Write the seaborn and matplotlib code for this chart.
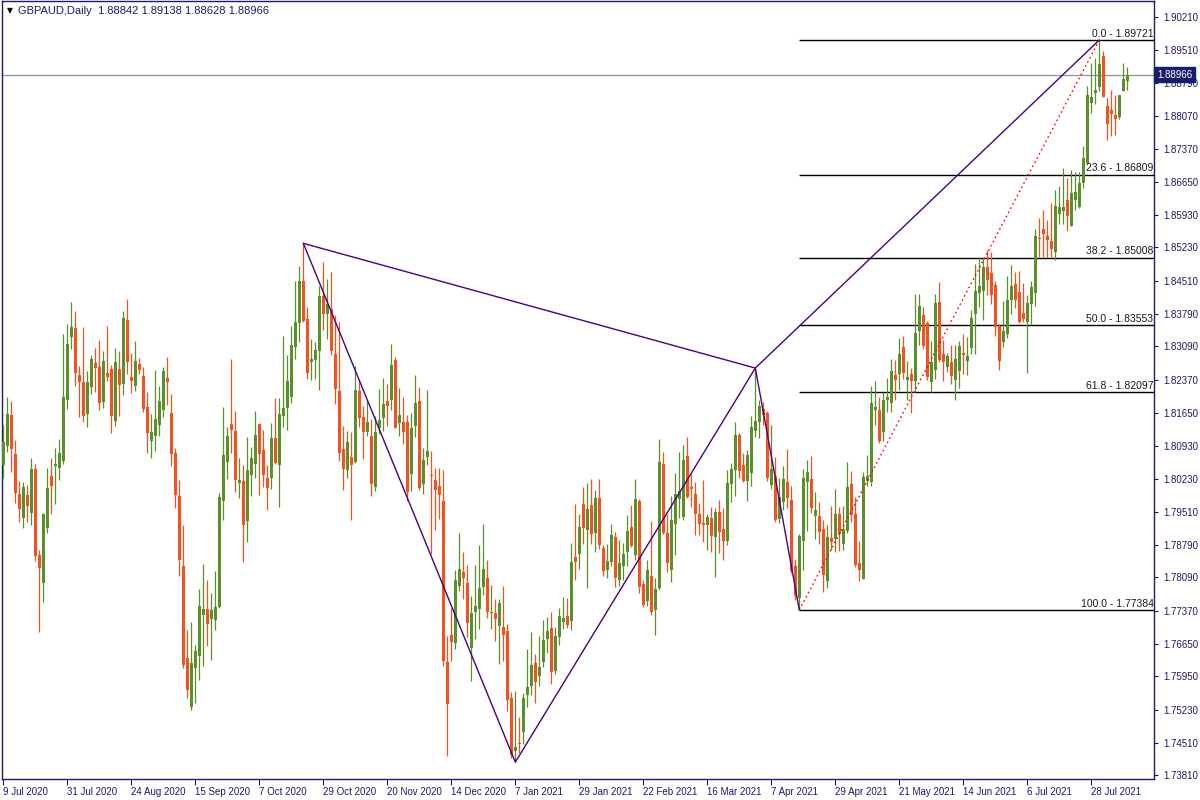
import numpy as np
import pandas as pd
import matplotlib
matplotlib.use("Agg")
import matplotlib.pyplot as plt
import matplotlib.transforms as mtransforms
import seaborn as sns

# GBPAUD daily OHLC (bar 0 = 9 Jul 2020)
opens = [
    1.8052, 1.8093, 1.8160, 1.8076, 1.7990, 1.7938, 1.7987, 1.7948, 1.8044, 1.7858,
    1.7797, 1.7916, 1.8028, 1.8050, 1.8046, 1.8061, 1.8193, 1.8329, 1.8349, 1.8247,
    1.8232, 1.8163, 1.8221, 1.8273, 1.8264, 1.8189, 1.8251, 1.8260, 1.8148, 1.8260,
    1.8228, 1.8366, 1.8243, 1.8223, 1.8271, 1.8245, 1.8178, 1.8104, 1.8115, 1.8139,
    1.8171, 1.8241, 1.8165, 1.8078, 1.7985, 1.7834, 1.7635, 1.7528, 1.7613, 1.7639,
    1.7728, 1.7741, 1.7719, 1.7717, 1.7745, 1.7974, 1.8059, 1.8141, 1.8126, 1.8013,
    1.8018, 1.7931, 1.8031, 1.8054, 1.8141, 1.8085, 1.8024, 1.8024, 1.8111, 1.8052,
    1.8158, 1.8176, 1.8200, 1.8308, 1.8360, 1.8451, 1.8368, 1.8275, 1.8280, 1.8299,
    1.8418, 1.8379, 1.8390, 1.8293, 1.8213, 1.8087, 1.8041, 1.8070, 1.8059, 1.8213,
    1.8156, 1.8124, 1.8115, 1.8005, 1.8132, 1.8154, 1.8191, 1.8193, 1.8280, 1.8143,
    1.8145, 1.8145, 1.8033, 1.8137, 1.8191, 1.8011, 1.8070, 1.8031, 1.8020, 1.8007,
    1.7974, 1.7626, 1.7684, 1.7667, 1.7790, 1.7821, 1.7797, 1.7656, 1.7734, 1.7741,
    1.7788, 1.7808, 1.7732, 1.7732, 1.7704, 1.7702, 1.7693, 1.7548, 1.7433, 1.7451,
    1.7474, 1.7554, 1.7574, 1.7624, 1.7596, 1.7626, 1.7676, 1.7700, 1.7606, 1.7680,
    1.7713, 1.7726, 1.7715, 1.7853, 1.7860, 1.7968, 1.7912, 1.7966, 1.7905, 1.7981,
    1.7873, 1.7825, 1.7842, 1.7896, 1.7803, 1.7834, 1.7864, 1.7918, 1.7858, 1.7974,
    1.7795, 1.7758, 1.7812, 1.7738, 1.7786, 1.8054, 1.7905, 1.7825, 1.7925, 1.7979,
    1.7940, 1.8072, 1.8005, 1.7990, 1.7946, 1.7927, 1.7922, 1.7938, 1.7896, 1.7951,
    1.7914, 1.7888, 1.8011, 1.8041, 1.8117, 1.8052, 1.8018, 1.8035, 1.8126, 1.8145,
    1.8173, 1.8165, 1.8009, 1.8028, 1.7935, 1.7972, 1.8015, 1.7977, 1.7834, 1.7764,
    1.7888, 1.8015, 1.8022, 1.7942, 1.7942, 1.7914, 1.7801, 1.7894, 1.7892, 1.7946,
    1.7881, 1.7909, 1.8011, 1.7946, 1.7840, 1.7806, 1.8018, 1.8015, 1.8171, 1.8171,
    1.8124, 1.8193, 1.8186, 1.8247, 1.8249, 1.8308, 1.8236, 1.8249, 1.8234, 1.8342,
    1.8377, 1.8360, 1.8232, 1.8258, 1.8405, 1.8293, 1.8264, 1.8275, 1.8236, 1.8256,
    1.8295, 1.8277, 1.8306, 1.8379, 1.8425, 1.8429, 1.8481, 1.8468, 1.8442, 1.8353,
    1.8319, 1.8336, 1.8409, 1.8444, 1.8427, 1.8381, 1.8362, 1.8401, 1.8425, 1.8544,
    1.8563, 1.8548, 1.8537, 1.8513, 1.8596, 1.8602, 1.8626, 1.8570, 1.8626, 1.8611,
    1.8663, 1.8706, 1.8836, 1.8857, 1.8870, 1.8938, 1.8829, 1.8821, 1.8810, 1.8806,
    1.8862, 1.88842]

highs = [
    1.8139, 1.8200, 1.8191, 1.8106, 1.8018, 1.8015, 1.8009, 1.8067, 1.8054, 1.7868,
    1.7948, 1.8046, 1.8067, 1.8089, 1.8109, 1.8336, 1.8358, 1.8405, 1.8386, 1.8267,
    1.8351, 1.8256, 1.8290, 1.8306, 1.8323, 1.8299, 1.8353, 1.8269, 1.8306, 1.8299,
    1.8386, 1.8412, 1.8295, 1.8321, 1.8284, 1.8264, 1.8210, 1.8163, 1.8258, 1.8223,
    1.8264, 1.8286, 1.8206, 1.8089, 1.8020, 1.7922, 1.7695, 1.7713, 1.7663, 1.7784,
    1.7838, 1.7803, 1.7775, 1.7823, 1.7992, 1.8178, 1.8135, 1.8282, 1.8169, 1.8067,
    1.8052, 1.8113, 1.8091, 1.8169, 1.8143, 1.8128, 1.8052, 1.8143, 1.8197, 1.8197,
    1.8332, 1.8290, 1.8353, 1.8451, 1.8483, 1.8532, 1.8394, 1.8325, 1.8319, 1.8440,
    1.8492, 1.8455, 1.8470, 1.8377, 1.8362, 1.8137, 1.8126, 1.8124, 1.8267, 1.8236,
    1.8180, 1.8193, 1.8152, 1.8158, 1.8217, 1.8241, 1.8228, 1.8314, 1.8286, 1.8219,
    1.8200, 1.8160, 1.8165, 1.8247, 1.8221, 1.8089, 1.8215, 1.8083, 1.8046, 1.8046,
    1.8041, 1.7682, 1.7743, 1.7825, 1.7905, 1.7864, 1.7836, 1.7769, 1.7836, 1.7879,
    1.7925, 1.7847, 1.7793, 1.7762, 1.7762, 1.7790, 1.7708, 1.7561, 1.7563, 1.7507,
    1.7559, 1.7654, 1.7691, 1.7643, 1.7682, 1.7717, 1.7723, 1.7734, 1.7702, 1.7743,
    1.7767, 1.7764, 1.7883, 1.7968, 1.7946, 1.8005, 1.8013, 1.8022, 1.7998, 1.8022,
    1.7879, 1.7881, 1.7925, 1.7907, 1.7890, 1.7883, 1.7944, 1.7966, 1.8022, 1.7979,
    1.7803, 1.7847, 1.7931, 1.7808, 1.8109, 1.8080, 1.7946, 1.7985, 1.8035, 1.8080,
    1.8096, 1.8113, 1.8033, 1.8015, 1.7970, 1.8020, 1.7946, 1.7961, 1.7959, 1.7977,
    1.7959, 1.8041, 1.8057, 1.8145, 1.8122, 1.8078, 1.8085, 1.8158, 1.8262, 1.8193,
    1.8189, 1.8169, 1.8139, 1.8070, 1.8024, 1.8050, 1.8087, 1.8007, 1.7849, 1.7903,
    1.8044, 1.8063, 1.8072, 1.7994, 1.7972, 1.7933, 1.7922, 1.7964, 1.8000, 1.7961,
    1.7964, 1.8059, 1.8039, 1.7983, 1.7888, 1.8037, 1.8074, 1.8223, 1.8234, 1.8200,
    1.8210, 1.8241, 1.8282, 1.8280, 1.8327, 1.8332, 1.8277, 1.8262, 1.8422, 1.8422,
    1.8394, 1.8364, 1.8321, 1.8422, 1.8448, 1.8323, 1.8295, 1.8312, 1.8312, 1.8321,
    1.8336, 1.8329, 1.8388, 1.8487, 1.8502, 1.8500, 1.8518, 1.8513, 1.8451, 1.8358,
    1.8407, 1.8461, 1.8485, 1.8470, 1.8472, 1.8446, 1.8420, 1.8451, 1.8563, 1.8587,
    1.8604, 1.8583, 1.8619, 1.8648, 1.8656, 1.8695, 1.8674, 1.8691, 1.8686, 1.8686,
    1.8743, 1.8873, 1.8922, 1.8933, 1.89721, 1.8948, 1.8847, 1.8864, 1.8853, 1.8853,
    1.8922, 1.89138]

lows = [
    1.8024, 1.8080, 1.8037, 1.7970, 1.7929, 1.7916, 1.7929, 1.7922, 1.7845, 1.7691,
    1.7756, 1.7905, 1.7946, 1.7968, 1.8020, 1.8054, 1.8173, 1.8303, 1.8223, 1.8156,
    1.8145, 1.8135, 1.8206, 1.8210, 1.8171, 1.8176, 1.8234, 1.8122, 1.8137, 1.8158,
    1.8204, 1.8249, 1.8208, 1.8213, 1.8249, 1.8167, 1.8078, 1.8067, 1.8083, 1.8115,
    1.8156, 1.8182, 1.8050, 1.7959, 1.7812, 1.7613, 1.7548, 1.7522, 1.7537, 1.7587,
    1.7617, 1.7661, 1.7630, 1.7695, 1.7743, 1.7933, 1.8022, 1.8078, 1.7994, 1.7981,
    1.7842, 1.7886, 1.7985, 1.8024, 1.7987, 1.8005, 1.7955, 1.8000, 1.8054, 1.7961,
    1.8135, 1.8128, 1.8186, 1.8282, 1.8319, 1.8362, 1.8238, 1.8236, 1.8238, 1.8215,
    1.8345, 1.8325, 1.8290, 1.8184, 1.8061, 1.7998, 1.8024, 1.7933, 1.8057, 1.8135,
    1.8065, 1.8115, 1.7985, 1.7996, 1.8119, 1.8126, 1.8137, 1.8171, 1.8132, 1.8115,
    1.8098, 1.7974, 1.7996, 1.8113, 1.7998, 1.7990, 1.8052, 1.7860, 1.7912, 1.7935,
    1.7617, 1.7422, 1.7628, 1.7654, 1.7780, 1.7762, 1.7680, 1.7585, 1.7676, 1.7697,
    1.7771, 1.7721, 1.7697, 1.7671, 1.7622, 1.7628, 1.7520, 1.7418, 1.7409, 1.7429,
    1.7448, 1.7528, 1.7554, 1.7537, 1.7574, 1.7615, 1.7645, 1.7578, 1.7600, 1.7663,
    1.7697, 1.7700, 1.7695, 1.7803, 1.7827, 1.7881, 1.7786, 1.7881, 1.7864, 1.7871,
    1.7812, 1.7808, 1.7834, 1.7788, 1.7790, 1.7803, 1.7834, 1.7875, 1.7847, 1.7775,
    1.7745, 1.7747, 1.7728, 1.7684, 1.7782, 1.7903, 1.7821, 1.7799, 1.7858, 1.7938,
    1.7933, 1.7981, 1.7961, 1.7901, 1.7901, 1.7886, 1.7868, 1.7864, 1.7810, 1.7862,
    1.7847, 1.7879, 1.7972, 1.7985, 1.8024, 1.8015, 1.7974, 1.8007, 1.8113, 1.8111,
    1.8139, 1.8018, 1.8000, 1.7929, 1.7927, 1.7955, 1.7959, 1.7819, 1.7760, 1.77384,
    1.7825, 1.7909, 1.7948, 1.7892, 1.7881, 1.7777, 1.7786, 1.7868, 1.7864, 1.7866,
    1.7868, 1.7905, 1.7929, 1.7832, 1.7801, 1.7806, 1.8007, 1.8007, 1.8139, 1.8100,
    1.8104, 1.8167, 1.8167, 1.8193, 1.8215, 1.8238, 1.8193, 1.8165, 1.8210, 1.8312,
    1.8303, 1.8236, 1.8210, 1.8238, 1.8275, 1.8234, 1.8254, 1.8228, 1.8193, 1.8219,
    1.8249, 1.8247, 1.8293, 1.8293, 1.8394, 1.8366, 1.8420, 1.8401, 1.8332, 1.8258,
    1.8308, 1.8327, 1.8379, 1.8392, 1.8360, 1.8362, 1.8251, 1.8358, 1.8396, 1.8502,
    1.8502, 1.8502, 1.8502, 1.8496, 1.8574, 1.8574, 1.8559, 1.8570, 1.8604, 1.8609,
    1.8652, 1.8704, 1.8814, 1.8834, 1.8862, 1.8849, 1.8756, 1.8764, 1.8767, 1.8801,
    1.8862, 1.88628]

closes = [
    1.8102, 1.8163, 1.8087, 1.7992, 1.7957, 1.8005, 1.7964, 1.8044, 1.7855, 1.7829,
    1.7946, 1.8003, 1.8007, 1.8054, 1.8078, 1.8200, 1.8314, 1.8351, 1.8251, 1.8232,
    1.8158, 1.8232, 1.8282, 1.8262, 1.8186, 1.8277, 1.8243, 1.8158, 1.8275, 1.8225,
    1.8370, 1.8275, 1.8234, 1.8277, 1.8258, 1.8173, 1.8122, 1.8124, 1.8152, 1.8191,
    1.8256, 1.8232, 1.8076, 1.7987, 1.7847, 1.7619, 1.7565, 1.7624, 1.7650, 1.7747,
    1.7741, 1.7708, 1.7738, 1.7745, 1.7983, 1.8074, 1.8115, 1.8128, 1.8020, 1.8020,
    1.7922, 1.8041, 1.8067, 1.8117, 1.8076, 1.8031, 1.8003, 1.8111, 1.8057, 1.8163,
    1.8176, 1.8234, 1.8312, 1.8362, 1.8451, 1.8364, 1.8251, 1.8282, 1.8301, 1.8418,
    1.8379, 1.8401, 1.8299, 1.8217, 1.8078, 1.8044, 1.8102, 1.8052, 1.8215, 1.8154,
    1.8124, 1.8145, 1.8011, 1.8124, 1.8150, 1.8184, 1.8180, 1.8269, 1.8132, 1.8160,
    1.8124, 1.7994, 1.8132, 1.8186, 1.8003, 1.8063, 1.8083, 1.8028, 1.7998, 1.7987,
    1.7628, 1.7535, 1.7669, 1.7803, 1.7827, 1.7808, 1.7710, 1.7732, 1.7747, 1.7786,
    1.7827, 1.7734, 1.7734, 1.7719, 1.7754, 1.7684, 1.7544, 1.7425, 1.7442, 1.7448,
    1.7548, 1.7572, 1.7619, 1.7583, 1.7615, 1.7674, 1.7693, 1.7604, 1.7682, 1.7726,
    1.7721, 1.7706, 1.7842, 1.7842, 1.7918, 1.7916, 1.7957, 1.7903, 1.7981, 1.7879,
    1.7823, 1.7845, 1.7901, 1.7808, 1.7840, 1.7860, 1.7909, 1.7877, 1.7979, 1.7788,
    1.7749, 1.7825, 1.7734, 1.7784, 1.8059, 1.7905, 1.7840, 1.7933, 1.7990, 1.7996,
    1.8063, 1.7983, 1.8000, 1.7946, 1.7925, 1.7922, 1.7940, 1.7899, 1.7951, 1.7907,
    1.7888, 1.8013, 1.8044, 1.8117, 1.8039, 1.8018, 1.8074, 1.8135, 1.8148, 1.8180,
    1.8160, 1.8024, 1.8044, 1.7933, 1.7983, 1.8022, 1.7981, 1.7823, 1.7769, 1.7899,
    1.8024, 1.8037, 1.7959, 1.7955, 1.7907, 1.7814, 1.7896, 1.7886, 1.7946, 1.7903,
    1.7914, 1.8005, 1.7944, 1.7836, 1.7825, 1.8026, 1.8028, 1.8186, 1.8178, 1.8104,
    1.8193, 1.8200, 1.8256, 1.8236, 1.8293, 1.8251, 1.8243, 1.8234, 1.8338, 1.8396,
    1.8310, 1.8243, 1.8275, 1.8403, 1.8280, 1.8275, 1.8288, 1.8245, 1.8282, 1.8310,
    1.8290, 1.8288, 1.8370, 1.8429, 1.8440, 1.8481, 1.8453, 1.8420, 1.8351, 1.8277,
    1.8342, 1.8409, 1.8440, 1.8409, 1.8362, 1.8368, 1.8403, 1.8438, 1.8548, 1.8541,
    1.8552, 1.8539, 1.8520, 1.8613, 1.8611, 1.8611, 1.8591, 1.8641, 1.8643, 1.8663,
    1.8717, 1.8853, 1.8849, 1.8864, 1.8920, 1.8849, 1.8790, 1.8812, 1.8801, 1.8853,
    1.8888, 1.88966]

# date labels every 16 bars
date_labels = ["9 Jul 2020", "31 Jul 2020", "24 Aug 2020", "15 Sep 2020", "7 Oct 2020",
               "29 Oct 2020", "20 Nov 2020", "14 Dec 2020", "7 Jan 2021", "29 Jan 2021",
               "22 Feb 2021", "16 Mar 2021", "7 Apr 2021", "29 Apr 2021", "21 May 2021",
               "14 Jun 2021", "6 Jul 2021", "28 Jul 2021"]
price_ticks = [1.90210, 1.89510, 1.88790, 1.88070, 1.87370, 1.86650, 1.85930, 1.85230,
               1.84510, 1.83790, 1.83090, 1.82370, 1.81650, 1.80930, 1.80230, 1.79510,
               1.78790, 1.78090, 1.77370, 1.76650, 1.75950, 1.75230, 1.74510, 1.73810]

# fibonacci retracement (anchored bar 199 low -> bar 274 high)
fib_pct = ["0.0", "23.6", "38.2", "50.0", "61.8", "100.0"]
fib_price = [1.89721, 1.86809, 1.85008, 1.83553, 1.82097, 1.77384]
fib_bars = [199, 274]

# purple pattern pivots (bar, price)
pivot_bars = [75, 128, 188, 199]
pivot_prices = [1.8532, 1.7409, 1.8262, 1.77384]
top_pivot = (274, 1.89721)

last_price = 1.88966

sns.set_theme(style="white")
plt.rcParams['font.family'] = ['Liberation Sans', 'DejaVu Sans']

navy = "#1B1B6B"
green = "#5B8F29"
red = "#F4511E"

df = pd.DataFrame({"open": opens, "high": highs, "low": lows, "close": closes})
df["bar"] = np.arange(len(df))
df["up"] = df["close"] >= df["open"]
df["col"] = np.where(df["up"], green, red)
df["body_lo"] = df[["open", "close"]].min(axis=1)
df["body_h"] = (df["close"] - df["open"]).abs().clip(lower=0.00022)

fig = plt.figure(figsize=(12, 8), dpi=100)
ax = fig.add_axes([2 / 1200, 21 / 800, 1152 / 1200, 778 / 800])

# wicks + bodies
ax.vlines(df["bar"], df["low"], df["high"], colors=df["col"], linewidth=0.9, zorder=3)
ax.bar(df["bar"], df["body_h"], bottom=df["body_lo"], width=0.75,
       color=df["col"], linewidth=0, zorder=4)

# current price line
ax.axhline(last_price, color="#8A949C", linewidth=0.9, zorder=2)

# fib levels
xmax = 287.67
ax.hlines(fib_price, fib_bars[0], xmax, colors="black", linewidth=1.0, zorder=2)
blend = mtransforms.blended_transform_factory(ax.transAxes, ax.transData)
for p, y in zip(fib_pct, fib_price):
    ax.text(0.9995, y + 0.0003, f"{p} - {y:.5f}", transform=blend, ha="right",
            va="bottom", fontsize=7.5, color="#1a1a1a", zorder=6)
ax.plot(fib_bars, [fib_price[-1], fib_price[0]], color="red", linestyle=(0, (1.2, 2.2)),
        linewidth=1.0, zorder=5)

# purple pattern lines
purple = "#4B0082"
sns.lineplot(x=pivot_bars, y=pivot_prices, sort=False, color=purple, linewidth=1.0,
             ax=ax, zorder=5)
sns.lineplot(x=[pivot_bars[0], pivot_bars[2]], y=[pivot_prices[0], pivot_prices[2]],
             sort=False, color=purple, linewidth=1.0, ax=ax, zorder=5)
sns.lineplot(x=[pivot_bars[2], top_pivot[0]], y=[pivot_prices[2], top_pivot[1]],
             sort=False, color=purple, linewidth=1.0, ax=ax, zorder=5)

ax.set_xlim(-0.33, xmax)
ax.set_ylim(1.73726, 1.90565)
ax.set_xlabel("")
ax.set_ylabel("")

ax.yaxis.tick_right()
ax.set_yticks(price_ticks)
ax.set_yticklabels([f"{v:.5f}" for v in price_ticks])
ax.set_xticks(np.arange(len(date_labels)) * 16)
ax.set_xticklabels(date_labels, ha="left")
ax.tick_params(axis="y", direction="out", length=3, width=0.8, pad=4,
               labelsize=7, colors=navy, right=True, left=False)
ax.tick_params(axis="x", direction="out", length=4, width=0.8, pad=2,
               labelsize=7, colors=navy, bottom=True)
for s in ax.spines.values():
    s.set_color(navy)
    s.set_linewidth(1.0)
ax.grid(False)

# current price tag on the axis
ax.text(1.0025, last_price, f"{last_price:.5f}", transform=blend, ha="left", va="center",
        fontsize=7, color="white", zorder=10, clip_on=False,
        bbox=dict(boxstyle="square,pad=0.25", facecolor=navy, edgecolor=navy))

# header
fig.text(7 / 1200, 1 - 11 / 800, "\u25BC", fontsize=5.5, color="black", va="center",
         family="DejaVu Sans")
fig.text(18 / 1200, 1 - 11 / 800, "GBPAUD,Daily  1.88842 1.89138 1.88628 1.88966",
         fontsize=8, color=navy, va="center")

fig.savefig("out.png", dpi=100, facecolor="white")
